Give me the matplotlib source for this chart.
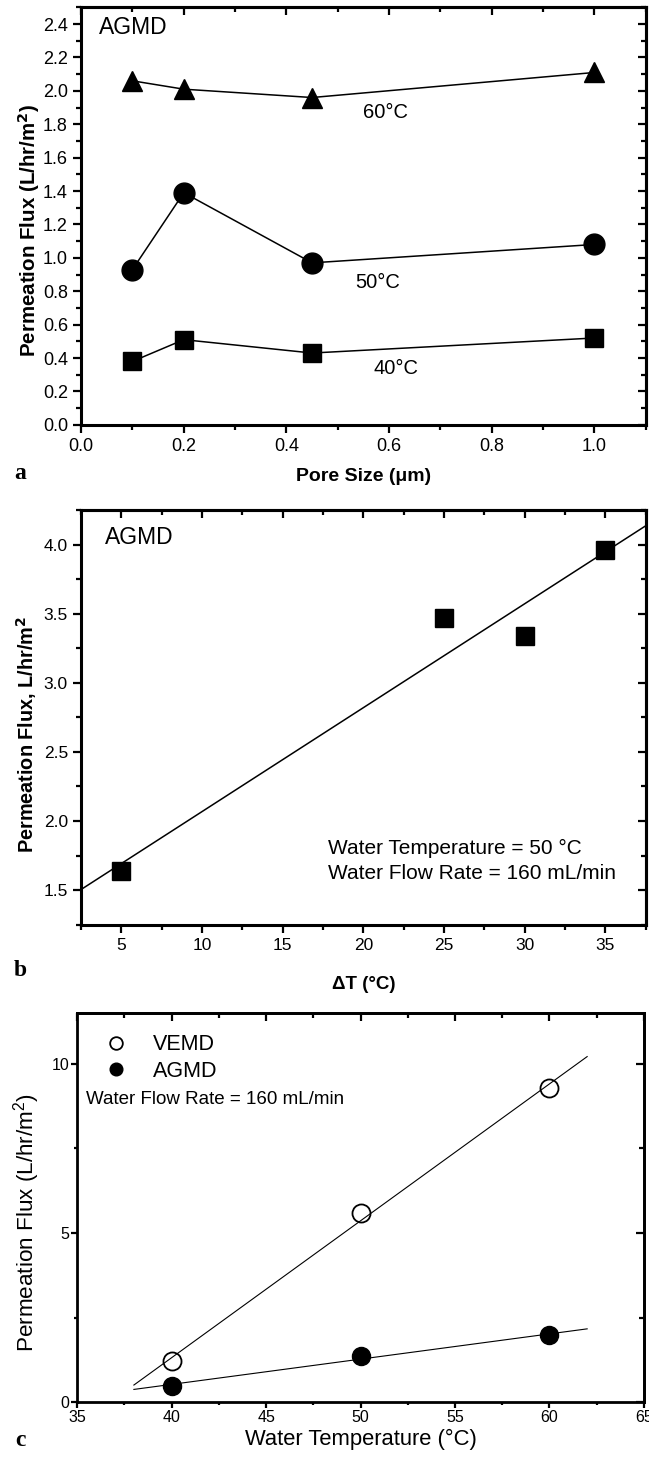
import numpy as np
import matplotlib.pyplot as plt
from matplotlib.ticker import MultipleLocator, FormatStrFormatter

plt.rcParams['font.family'] = ['Liberation Sans', 'DejaVu Sans']
plt.rcParams['mathtext.default'] = 'regular'

# panel a: flux vs pore size at three feed temperatures
pore_size = [0.1, 0.2, 0.45, 1.0]
flux_60 = [2.06, 2.01, 1.96, 2.11]
flux_50 = [0.93, 1.39, 0.97, 1.08]
flux_40 = [0.38, 0.51, 0.43, 0.52]

# panel b: flux vs temperature difference
delta_t = [5, 25, 30, 35]
flux_dt = [1.64, 3.47, 3.34, 3.96]

# panel c: flux vs water temperature
water_temp = [40, 50, 60]
flux_vemd = [1.21, 5.58, 9.29]
flux_agmd = [0.49, 1.36, 1.98]


def frame(ax, xmaj, xmin, ymaj, ymin, lw=2.2, tl=6):
    ax.xaxis.set_major_locator(MultipleLocator(xmaj))
    ax.xaxis.set_minor_locator(MultipleLocator(xmin))
    ax.yaxis.set_major_locator(MultipleLocator(ymaj))
    ax.yaxis.set_minor_locator(MultipleLocator(ymin))
    ax.tick_params(which='both', direction='out', width=1.6)
    ax.tick_params(which='major', length=tl)
    ax.tick_params(which='minor', length=tl * 0.6)
    for s in ax.spines.values():
        s.set_linewidth(lw)
    # mirrored ticks on top / right point inward
    top = ax.secondary_xaxis('top')
    top.xaxis.set_major_locator(MultipleLocator(xmaj))
    top.xaxis.set_minor_locator(MultipleLocator(xmin))
    top.tick_params(which='both', direction='in', labeltop=False, width=1.6)
    top.tick_params(which='major', length=6)
    top.tick_params(which='minor', length=3.5)
    top.spines['top'].set_linewidth(lw)
    right = ax.secondary_yaxis('right')
    right.yaxis.set_major_locator(MultipleLocator(ymaj))
    right.yaxis.set_minor_locator(MultipleLocator(ymin))
    right.tick_params(which='both', direction='in', labelright=False, width=1.6)
    right.tick_params(which='major', length=6)
    right.tick_params(which='minor', length=3.5)
    right.spines['right'].set_linewidth(lw)


fig = plt.figure(figsize=(6.49, 14.70), dpi=100)

# ---- a ----
ax1 = fig.add_axes([0.125, 0.711, 0.870, 0.284])
ax1.plot(pore_size, flux_60, 'k-^', ms=15, lw=1.1)
ax1.plot(pore_size, flux_50, 'k-o', ms=15, lw=1.1)
ax1.plot(pore_size, flux_40, 'k-s', ms=13.5, lw=1.1)
ax1.set_xlim(0, 1.1)
ax1.set_ylim(0, 2.5)
frame(ax1, 0.2, 0.1, 0.2, 0.1)
ax1.xaxis.set_major_formatter(FormatStrFormatter('%.1f'))
ax1.yaxis.set_major_formatter(FormatStrFormatter('%.1f'))
ax1.tick_params(labelsize=13)
ax1.text(0.035, 2.38, 'AGMD', fontsize=16.5, va='center')
ax1.text(0.55, 1.87, '60°C', fontsize=14.5, va='center')
ax1.text(0.535, 0.85, '50°C', fontsize=14.5, va='center')
ax1.text(0.57, 0.34, '40°C', fontsize=14.5, va='center')
ax1.set_xlabel('Pore Size (μm)', fontsize=14, fontweight='bold', labelpad=9)
ax1.set_ylabel(r'Permeation Flux (L/hr/m$^\mathbf{2}$)', fontsize=14.8, fontweight='bold')
ax1.yaxis.set_label_coords(-0.069, 0.465)

# ---- b ----
ax2 = fig.add_axes([0.125, 0.371, 0.870, 0.282])
ax2.plot(delta_t, flux_dt, 'ks', ms=13.5, lw=0)
k, b0 = np.polyfit(delta_t, flux_dt, 1)
xs = np.array([2.5, 37.5])
ax2.plot(xs, k * xs + b0, 'k-', lw=1.1)
ax2.set_xlim(2.5, 37.5)
ax2.set_ylim(1.25, 4.25)
frame(ax2, 5, 2.5, 0.5, 0.25)
ax2.yaxis.set_major_formatter(FormatStrFormatter('%.1f'))
ax2.tick_params(labelsize=12.5)
ax2.text(4.0, 4.05, 'AGMD', fontsize=16.5, va='center')
ax2.text(17.8, 1.80, 'Water Temperature = 50 °C', fontsize=15, va='center')
ax2.text(17.8, 1.62, 'Water Flow Rate = 160 mL/min', fontsize=15, va='center')
ax2.set_xlabel('ΔT (°C)', fontsize=13.5, fontweight='bold', labelpad=17)
ax2.set_ylabel(r'Permeation Flux, L/hr/m$^\mathbf{2}$', fontsize=14.3, fontweight='bold')
ax2.yaxis.set_label_coords(-0.074, 0.458)

# ---- c ----
ax3 = fig.add_axes([0.119, 0.046, 0.873, 0.265])
ax3.plot(water_temp, flux_vemd, 'o', mfc='white', mec='k', mew=1.3, ms=13, label='VEMD')
ax3.plot(water_temp, flux_agmd, 'o', color='k', ms=13, label='AGMD')
xs = np.array([38, 62])
k, b0 = np.polyfit(water_temp, flux_vemd, 1)
ax3.plot(xs, k * xs + b0, 'k-', lw=0.8)
k, b0 = np.polyfit(water_temp, flux_agmd, 1)
ax3.plot(xs, k * xs + b0, 'k-', lw=0.8)
ax3.set_xlim(35, 65)
ax3.set_ylim(0, 11.5)
frame(ax3, 5, 2.5, 5, 2.5, lw=2.0, tl=4)
ax3.tick_params(labelsize=11.5, pad=1.5)
ax3.legend(loc='upper left', frameon=False, fontsize=15.5, handletextpad=0.9,
           borderaxespad=0.6, markerscale=0.7, labelspacing=0.25, handlelength=1.6)
ax3.text(35.45, 8.95, 'Water Flow Rate = 160 mL/min', fontsize=13.5, va='center')
ax3.set_xlabel('Water Temperature (°C)', fontsize=15.8, labelpad=3)
ax3.set_ylabel(r'Permeation Flux (L/hr/m$^2$)', fontsize=16.2)
ax3.yaxis.set_label_coords(-0.062, 0.4625)

for y, lab in [(0.678, 'a'), (0.340, 'b'), (0.0204, 'c')]:
    fig.text(0.031, y, lab, fontsize=17, fontweight='bold', family='Liberation Serif',
             ha='center', va='center')

fig.savefig('out.png', dpi=100)
plt.close('all')
